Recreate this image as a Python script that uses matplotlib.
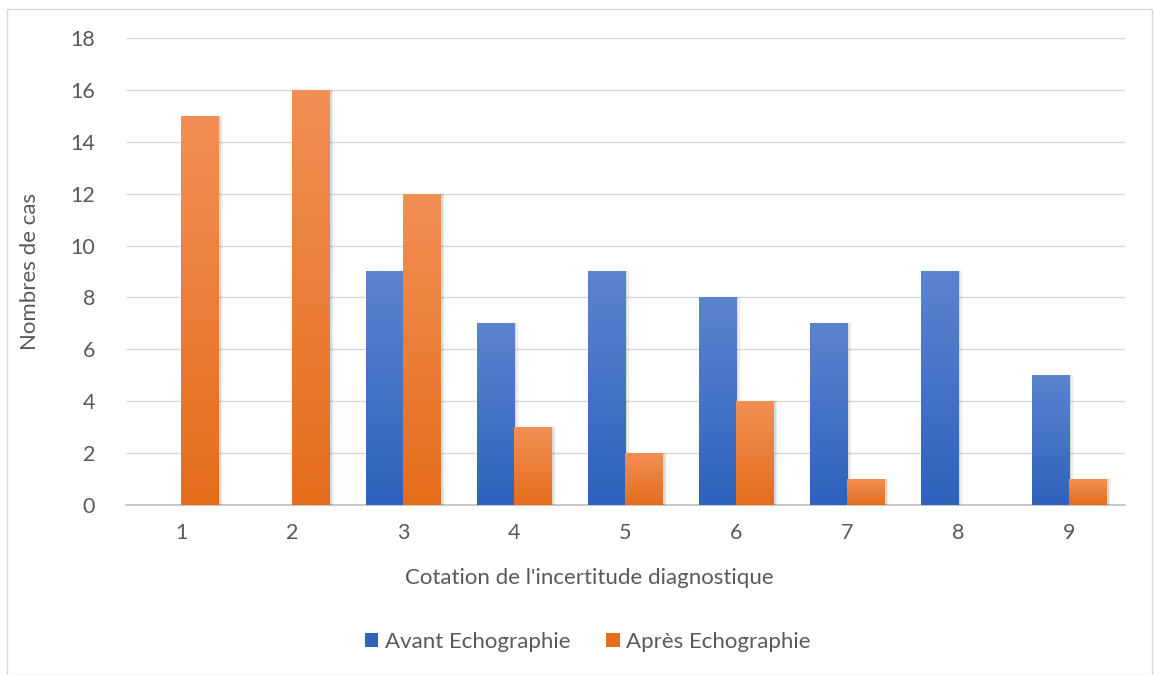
import matplotlib.pyplot as plt
from matplotlib.patches import Rectangle
import numpy as np

categories = [1, 2, 3, 4, 5, 6, 7, 8, 9]
avant = [0, 0, 9, 7, 9, 8, 7, 9, 5]
apres = [15, 16, 12, 3, 2, 4, 1, 0, 1]
series_names = ["Avant Echographie", "Après Echographie"]

blue_top, blue_bot = "#5b84cf", "#2f62bd"
orange_top, orange_bot = "#f28f55", "#e46d1b"
text_col = "#595959"

plt.rcParams['font.family'] = ['Lato', 'DejaVu Sans']

fig = plt.figure(figsize=(11.55, 6.75), dpi=100)
ax = fig.add_axes([0.1087, 0.2519, 0.8649, 0.6919])

# outer chart frame
fig.patches.append(Rectangle((7 / 1155, 0.0), 1145 / 1155, 1 - 9 / 675,
                             transform=fig.transFigure, fill=False,
                             edgecolor="#d9d9d9", linewidth=1))


def gradient_bar(x, h, w, c_top, c_bot):
    if h <= 0:
        return
    # soft shadow
    for k, a in enumerate([0.08, 0.05, 0.025]):
        ax.add_patch(Rectangle((x - w / 2 + 0.012 * (k + 1), 0), w + 0.01, h,
                               facecolor="black", alpha=a, linewidth=0, zorder=2))
    bar = Rectangle((x - w / 2, 0), w, h, facecolor="none", linewidth=0, zorder=3)
    ax.add_patch(bar)
    top = np.array(plt.matplotlib.colors.to_rgb(c_top))
    bot = np.array(plt.matplotlib.colors.to_rgb(c_bot))
    t = np.linspace(0, 1, 64)[:, None]
    img = (bot * (1 - t) + top * t)[:, None, :]
    im = ax.imshow(img, extent=(x - w / 2, x + w / 2, 0, h), origin="lower",
                   aspect="auto", zorder=3, interpolation="bilinear")
    im.set_clip_path(bar)


w = 0.335
x = np.array(categories, dtype=float)
for xi, a, b in zip(x, avant, apres):
    gradient_bar(xi - w / 2, a, w, blue_top, blue_bot)
    gradient_bar(xi + w / 2, b, w, orange_top, orange_bot)

ax.set_xlim(0.5, 9.5)
ax.set_ylim(0, 18)
ax.set_yticks(range(0, 19, 2))
ax.set_xticks(x)
ax.set_xticklabels([str(c) for c in categories])
ax.grid(axis="y", color="#d9d9d9", linewidth=1)
ax.set_axisbelow(True)
for s in ["top", "right", "left"]:
    ax.spines[s].set_visible(False)
ax.spines["bottom"].set_color("#bfbfbf")
ax.spines["bottom"].set_linewidth(1.2)
ax.spines["bottom"].set_zorder(1)
ax.tick_params(length=0, colors=text_col, labelsize=15.5)
ax.tick_params(axis="y", pad=22)
ax.tick_params(axis="x", pad=13)

ax.set_xlabel("Cotation de l'incertitude diagnostique", color=text_col,
              fontsize=16, labelpad=11)
ax.xaxis.set_label_coords(0.464, -0.135)
ax.set_ylabel("Nombres de cas", color=text_col, fontsize=16, labelpad=22)

handles = [Rectangle((0, 0), 1, 1, facecolor=c) for c in (blue_bot, orange_bot)]
fig.legend(handles, series_names, loc="center", bbox_to_anchor=(0.509, 0.049),
           ncol=2, frameon=False, fontsize=16, labelcolor=text_col,
           handlelength=0.6, handleheight=0.6, handletextpad=0.3,
           columnspacing=1.6)

fig.savefig("out.png", dpi=100)
